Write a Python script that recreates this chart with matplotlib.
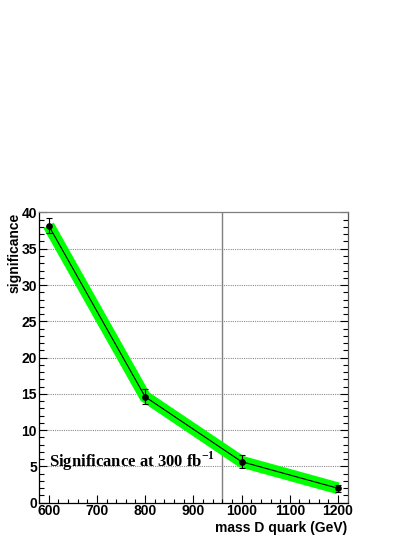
import matplotlib
matplotlib.use('Agg')
import matplotlib.pyplot as plt
from matplotlib.ticker import MultipleLocator

# values
mass = [600, 800, 1000, 1200]
significance = [38.2, 14.6, 5.65, 1.98]
sig_err = [1.0, 1.0, 0.9, 0.45]
cut_mass = 960
y_grid = [5, 10, 15, 20, 25, 30, 35]
label_text = 'Significance at 300 fb$^{\\mathregular{-1}}$'

plt.rcParams['font.family'] = ['Liberation Sans', 'DejaVu Sans']
plt.rcParams['font.weight'] = 'bold'


def main():
    fig = plt.figure(figsize=(4.17, 5.39), dpi=100)
    ax = fig.add_axes([0.0935, 0.0674, 0.7403, 0.5384])

    ax.set_xlim(580, 1220)
    ax.set_ylim(0, 40)

    # dotted horizontal grid
    for g in y_grid:
        ax.axhline(g, color='#8c8c8c', lw=0.8, ls=(0, (1, 1)), zorder=1)

    # vertical cut line
    ax.axvline(cut_mass, color='#7f7f7f', lw=1.0, zorder=1)

    # green band + central line
    ax.plot(mass, significance, color='#00ff00', lw=8.5,
            solid_capstyle='butt', solid_joinstyle='miter', zorder=2)
    ax.plot(mass, significance, color='black', lw=0.8, zorder=3)
    ax.errorbar(mass, significance, yerr=sig_err, fmt='o', color='black',
                ms=3.8, elinewidth=0.8, capsize=2.2, capthick=0.8, zorder=4)

    ax.text(600, 4.9, label_text, family='Liberation Serif', weight='bold',
            fontsize=12, zorder=5)

    # ROOT-like axes
    ax.xaxis.set_major_locator(MultipleLocator(100))
    ax.xaxis.set_minor_locator(MultipleLocator(20))
    ax.yaxis.set_major_locator(MultipleLocator(5))
    ax.yaxis.set_minor_locator(MultipleLocator(1))
    ax.tick_params(which='both', direction='in', width=0.8, labelsize=10,
                   top=False, right=True, color='black')
    ax.tick_params(axis='x', which='major', length=6, pad=1.0)
    ax.tick_params(axis='x', which='minor', length=3)
    ax.tick_params(axis='y', which='major', length=6, pad=1.5)
    ax.tick_params(axis='y', which='minor', length=3.5)
    for lab in ax.get_xticklabels() + ax.get_yticklabels():
        lab.set_fontweight('bold')

    ax.spines['left'].set_color('black')
    ax.spines['bottom'].set_color('black')
    ax.spines['top'].set_color('#7f7f7f')
    ax.spines['right'].set_color('#555555')
    for s in ax.spines.values():
        s.set_linewidth(0.9)

    ax.set_xlabel('mass D quark (GeV)', fontsize=10, fontweight='bold',
                  loc='right', labelpad=2)
    ax.set_ylabel('significance', fontsize=10, fontweight='bold',
                  loc='top', labelpad=0)

    fig.savefig('out.png', dpi=100, facecolor='white')


if __name__ == '__main__':
    main()
